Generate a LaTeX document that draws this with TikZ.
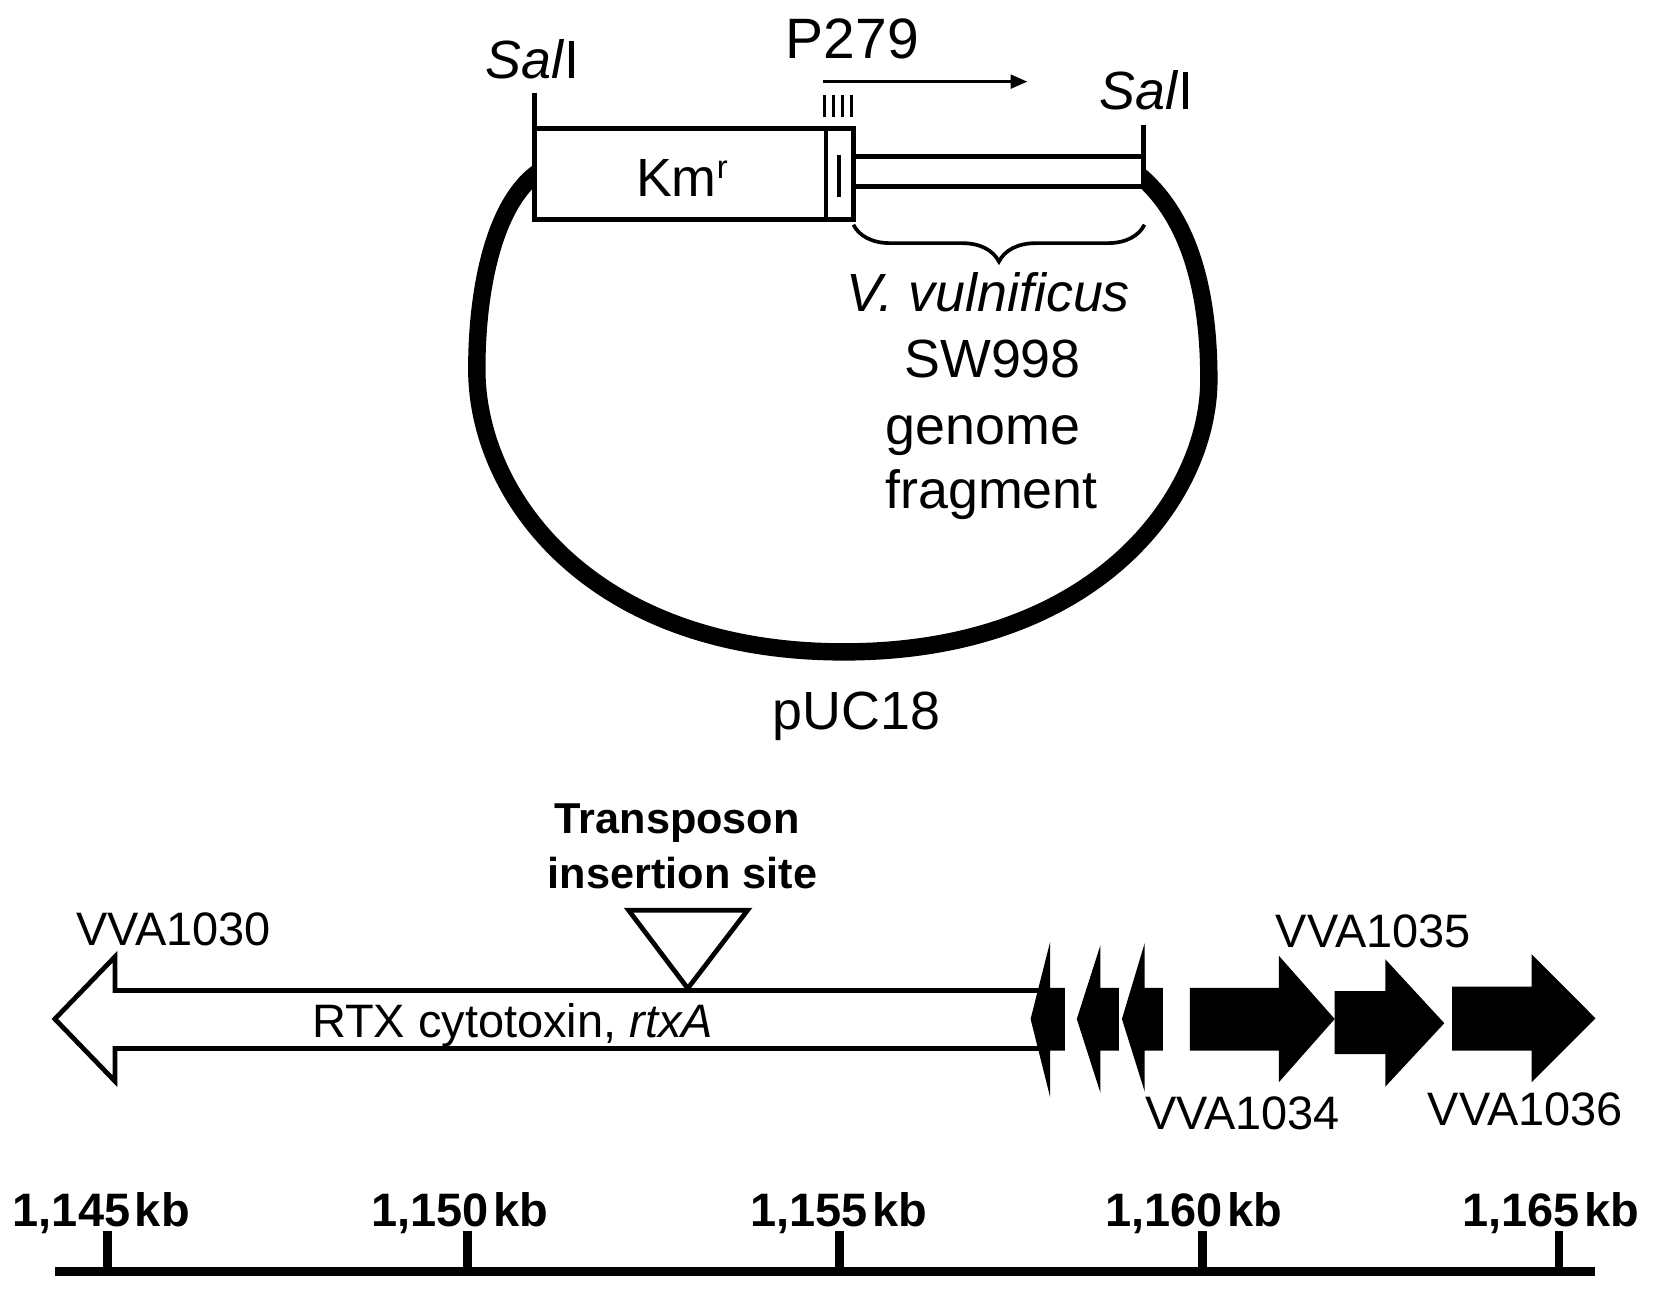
\documentclass[tikz,border=0pt]{standalone}
\usepackage{fontspec}
\setmainfont{Liberation Sans}
\usetikzlibrary{arrows.meta,decorations.pathreplacing}
\tikzset{
  lab/.style={inner sep=0pt, outer sep=0pt, anchor=base},
  bigfont/.style={font=\fontsize{51}{60}\selectfont},
  midfont/.style={font=\fontsize{44.5}{52}\selectfont},
  boldfont/.style={font=\fontsize{41}{50}\selectfont\bfseries},
  scalefont/.style={font=\fontsize{44.5}{52}\selectfont\bfseries},
  boxline/.style={line width=4.5pt, line join=miter},
  genearrow/.style={fill=black},
  tickline/.style={line width=8pt},
}
\begin{document}
\begin{tikzpicture}[x=1pt,y=-1pt]
\useasboundingbox (0,0) rectangle (1568,1225);

% ---------- plasmid ----------
\coordinate (bl) at (512,162);
\coordinate (br) at (1080,166);
\draw[line width=16.5pt] (bl) .. controls (470,190) and (452,270) .. (452,350)
  .. controls (452,470) and (560,618) .. (800,618)
  .. controls (1040,618) and (1146,470) .. (1146,360)
  .. controls (1146,260) and (1120,200) .. (br);

\draw[boxline, fill=white] (507,121.7) rectangle (809,208);
\draw[boxline] (783,121.7) -- (783,208);
\draw[line width=4pt] (795.5,147) -- (795.5,186.5);
\draw[boxline, fill=white] (809,148.5) rectangle (1084,177);
\draw[boxline] (1084,118.5) -- (1084,177);
\draw[boxline] (507,88) -- (507,121.7);
\foreach \x in {782,790,799,807.5} \draw[line width=2.8pt] (\x,90) -- (\x,110.6);
\coordinate (pa) at (780,77.4);
\coordinate (pb) at (974,77.4);
\draw[line width=3pt, -{Triangle[length=16pt,width=13pt]}] (pa) -- (pb);
\draw[line width=3.5pt, decorate, decoration={brace, amplitude=35pt, mirror}] (809,213) -- (1085,213);

\node[lab,bigfont] (sal1) at (505,74.5) {\textit{Sal}I};
\node[lab,bigfont] (sal2) at (1087,104) {\textit{Sal}I};
\node[lab,font=\fontsize{54}{60}\selectfont] (p279) at (808,55) {P279};
\node[lab,bigfont,anchor=base west] (km) at (603,186.5) {Km\raisebox{17pt}{\fontsize{31}{31}\selectfont r}};
\node[lab,bigfont] (vv1) at (937,295) {\textit{V. vulnificus}};
\node[lab,bigfont] (vv2) at (941,358) {SW998};
\node[lab,bigfont] (vv3) at (932,421) {genome};
\node[lab,bigfont] (vv4) at (940,482) {fragment};
\node[lab,bigfont] (puc) at (812,692) {pUC18};

% ---------- gene map ----------
\node[lab,boldfont] (tn1) at (642,790) {Transposon};
\node[lab,boldfont] (tn2) at (647,842) {insertion site};

\draw[boxline, fill=white] (986,939) -- (109,939) -- (109,907) -- (52,966)
  -- (109,1025) -- (109,994) -- (986,994) -- cycle;
\draw[boxline, fill=white] (596,863) -- (708.6,863) -- (652,937) -- cycle;
\node[lab,midfont] (rtx) at (486,983.4) {RTX cytotoxin, \textit{rtxA}};

\fill[genearrow] (977,966) -- (995.5,893) -- (995.5,936.4) -- (1009.4,936.4) -- (1009.4,996.1) -- (995.5,996.1) -- (995.5,1040) -- cycle;
\fill[genearrow] (1020.8,966) -- (1043.2,896) -- (1043.2,936.4) -- (1060.7,936.4) -- (1060.7,996.1) -- (1043.2,996.1) -- (1043.2,1036) -- cycle;
\fill[genearrow] (1063.6,966) -- (1085.2,894) -- (1085.2,936.4) -- (1102.3,936.4) -- (1102.3,996.1) -- (1085.2,996.1) -- (1085.2,1035) -- cycle;
\fill[genearrow] (1128,936.4) -- (1212.3,936.4) -- (1212.3,906) -- (1265.3,966) -- (1212.3,1026) -- (1212.3,996.1) -- (1128,996.1) -- cycle;
\fill[genearrow] (1265.3,939.5) -- (1313.4,939.5) -- (1313.4,909.5) -- (1369.2,970) -- (1313.4,1030) -- (1313.4,999.3) -- (1265.3,999.3) -- cycle;
\fill[genearrow] (1376.5,935.4) -- (1451.9,935.4) -- (1451.9,904.5) -- (1512.6,965.4) -- (1451.9,1026) -- (1451.9,996) -- (1376.5,996) -- cycle;

\node[lab,midfont] (g30) at (164.5,896) {VVA1030};
\node[lab,midfont] (g35) at (1302,898) {VVA1035};
\node[lab,midfont] (g34) at (1178,1071) {VVA1034};
\node[lab,midfont] (g36) at (1446,1067) {VVA1036};

% ---------- scale ----------
\coordinate (s0) at (52,1205.5);
\coordinate (s1) at (1512,1205.5);
\draw[line width=9pt] (s0) -- (s1);
\foreach \x/\lx/\t in {102/96/145, 443/436/150, 796/795/155, 1140/1132/160, 1478/1470/165}{
  \draw[tickline] (\x,1167) -- (\x,1205);
  \node[lab,scalefont] at (\lx,1163) {1,\t\hspace{0.1em}kb};
}
\end{tikzpicture}
\end{document}
